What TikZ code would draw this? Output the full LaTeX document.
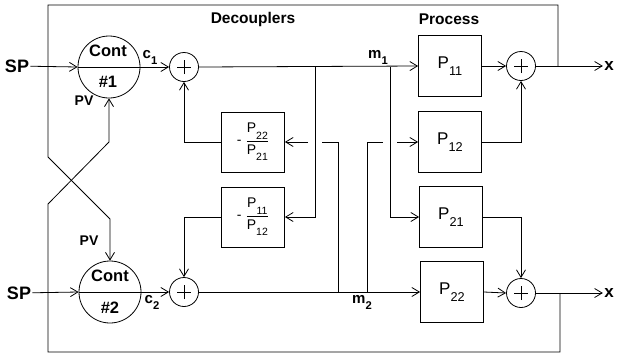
\documentclass[tikz,border=0pt]{standalone}
\usepackage{fontspec}
\usepackage{amsmath}
\usepackage{graphicx}
\setmainfont{Liberation Sans}
\usetikzlibrary{arrows.meta}
\newcommand{\PP}[1]{P\raisebox{-0.45em}{\scalebox{0.75}{#1}}}
\newcommand{\Fr}[2]{$\text{-}\;\dfrac{\text{\PP{#1}}}{\text{\PP{#2}}}$}
\newcommand{\Sb}[2]{#1\raisebox{-0.4em}{\scalebox{0.75}{#2}}}
\begin{document}
\begin{tikzpicture}[x=1pt,y=-1pt,line width=0.8pt,
  blk/.style={draw,minimum width=63pt,minimum height=61pt,inner sep=0pt},
  dblk/.style={blk,minimum height=60pt,font=\fontsize{14}{16}\selectfont},
  pblk/.style={blk,font=\fontsize{17}{19}\selectfont},
  sumn/.style={draw,circle,minimum size=29pt,inner sep=0pt,
    path picture={\draw[line width=0.7pt]
      ([xshift=-7pt]path picture bounding box.center) -- ([xshift=7pt]path picture bounding box.center)
      ([yshift=-7pt]path picture bounding box.center) -- ([yshift=7pt]path picture bounding box.center);}},
  ctl/.style={draw,circle,minimum size=62pt,inner sep=0pt},
  arr/.style={-{Straight Barb[length=7.5pt,width=9pt]}},
  txt/.style={inner sep=1pt,font=\fontsize{14}{16}\selectfont\bfseries},
  ctxt/.style={inner sep=1pt,font=\fontsize{16.5}{18}\selectfont\bfseries},
  head/.style={inner sep=1pt,font=\fontsize{15.5}{17}\selectfont\bfseries}]
\useasboundingbox (0,0) rectangle (618,360);

% headers
\node[head] (hd) at (253,19) {Decouplers};
\node[head] (hp) at (449,19) {Process};

% controllers
\node[txt,font=\fontsize{18}{20}\selectfont\bfseries] (sp1) at (17,66) {SP};
\node[txt,font=\fontsize{18}{20}\selectfont\bfseries] (sp2) at (19,293) {SP};
\node[ctl] (c1) at (109,67) {};
\node[ctl] (c2) at (110,292) {};
\node[ctxt] (c1a) at (108,51) {Cont};
\node[ctxt] (c1b) at (108,82) {\#1};
\node[ctxt] (c2a) at (110,276) {Cont};
\node[ctxt] (c2b) at (110,308) {\#2};
\node[txt] (pv1) at (84,101) {PV};
\node[txt] (pv2) at (89,241) {PV};
\node[txt,font=\fontsize{15}{17}\selectfont\bfseries] (lc1) at (150,57) {\Sb{c}{1}};
\node[txt,font=\fontsize{15}{17}\selectfont\bfseries] (lc2) at (152,302) {\Sb{c}{2}};

% sums
\node[sumn] (s1) at (184,67) {};
\node[sumn] (s2) at (184,292) {};
\node[sumn] (s3) at (521,66) {};
\node[sumn] (s4) at (521,293) {};

% decouplers
\node[dblk] (d1) at (253,142) {\Fr{22}{21}};
\node[dblk] (d2) at (253,217) {\Fr{11}{12}};

% process
\node[pblk] (p11) at (450,66) {\PP{11}};
\node[pblk] (p12) at (450,142) {\PP{12}};
\node[pblk] (p21) at (451,217) {\PP{21}};
\node[pblk] (p22) at (452,292) {\PP{22}};

\node[txt,font=\fontsize{15}{17}\selectfont\bfseries] (lm1) at (378,57) {\Sb{m}{1}};
\node[txt,font=\fontsize{15}{17}\selectfont\bfseries] (lm2) at (362,302) {\Sb{m}{2}};
\node[txt,font=\fontsize{17}{19}\selectfont\bfseries] (x1) at (609,66) {x};
\node[txt,font=\fontsize{17}{19}\selectfont\bfseries] (x2) at (609,293) {x};

% controller wiring
\draw[arr] (sp1) -- (c1.west);
\draw (c1.west) -- (c1.east);
\draw[arr] (c1.east) -- (s1.west);
\draw[arr] (sp2) -- (c2.west);
\draw (c2.west) -- (c2.east);
\draw[arr] (c2.east) -- (s2.west);

% manipulated variables
\draw[arr] (s1.east) -- (p11.west);
\draw[arr] (s2.east) -- (p22.west);
\coordinate (b1) at (315,67);
\coordinate (b2) at (390,67);
\coordinate (b3) at (338,292);
\coordinate (b4) at (367,292);
\coordinate (g1) at (322,142);
\coordinate (g2) at (308,142);
\coordinate (g3) at (383,142);
\coordinate (g4) at (397,142);
\draw[arr] (b1) |- (d2.east);
\draw[arr] (b2) |- (p21.west);
\draw (b3) |- (g1);
\draw[arr] (g2) -- (d1.east);
\draw (b4) |- (g3);
\draw[arr] (g4) -- (p12.west);

% decoupler outputs
\draw[arr] (d1.west) -| (s1.south);
\draw[arr] (d2.west) -| (s2.north);

% process sums
\draw[arr] (p11.east) -- (s3.west);
\draw[arr] (p12.east) -| (s3.south);
\draw[arr] (p21.east) -| (s4.north);
\draw[arr] (p22.east) -- (s4.west);
\draw[arr] (s3.east) -- (x1.west);
\draw[arr] (s4.east) -- (x2.west);

% feedback
\coordinate (f1) at (558,66);
\coordinate (f2) at (560,293);
\coordinate (k1) at (48,5);
\coordinate (k2) at (48,157);
\coordinate (k3) at (110,219);
\coordinate (k4) at (48,352);
\coordinate (k5) at (48,204);
\coordinate (k6) at (109,142);
\draw[arr] (f1) |- (k1) -- (k2) -- (k3) -- (c2.north);
\draw[arr] (f2) |- (k4) -- (k5) -- (k6) -- (c1.south);
\end{tikzpicture}
\end{document}
